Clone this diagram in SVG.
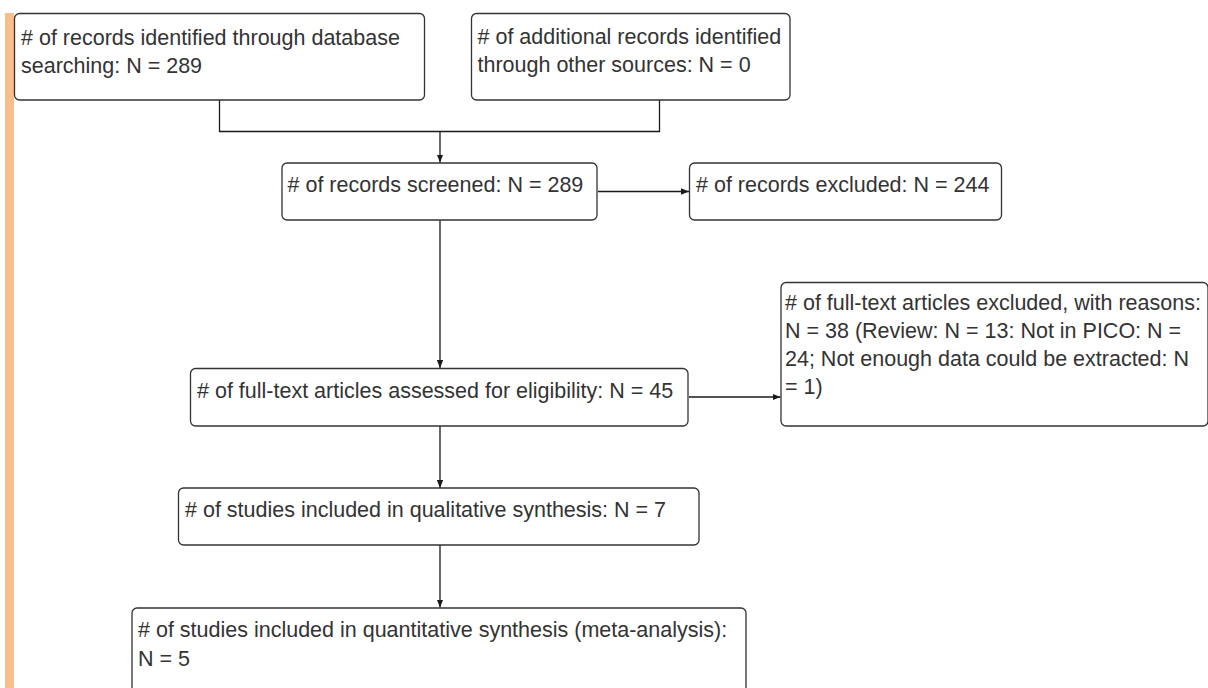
<svg xmlns="http://www.w3.org/2000/svg" width="1208" height="688" viewBox="0 0 1208 688">
  <defs>
    <marker id="arrow" viewBox="0 0 10 8" refX="10" refY="4" markerWidth="8" markerHeight="6.4" markerUnits="userSpaceOnUse" orient="auto">
      <path d="M0,0 L10,4 L0,8 Z" fill="#1a1a1a"/>
    </marker>
    <style>
      .box { fill: #ffffff; stroke: #333333; stroke-width: 1.3; }
      .label { font-family: "Liberation Sans", Arial, sans-serif; font-size: 21.5px; fill: #333333; }
      .wire { fill: none; stroke: #1a1a1a; stroke-width: 1.3; }
      .arrow { marker-end: url(#arrow); }
    </style>
  </defs>

  <rect width="1208" height="688" fill="#ffffff"/>

  <!-- side accent bar -->
  <rect x="5" y="13" width="9" height="675" fill="#f8be8c"/>

  <!-- connectors -->
  <g id="connectors">
    <path class="wire" d="M219.5,100 V131.5 H659.5 V100"/>
    <path class="wire arrow" d="M440,131.5 V162.5"/>
    <path class="wire arrow" d="M598,191.5 H689"/>
    <path class="wire arrow" d="M440,220 V368"/>
    <path class="wire arrow" d="M689,397 H780.5"/>
    <path class="wire arrow" d="M440,426 V488"/>
    <path class="wire arrow" d="M440,545 V607.5"/>
  </g>

  <g id="node-db-search">
    <rect class="box" x="14.5" y="13.5" width="410" height="86.5" rx="5"/>
    <text class="label" x="21" y="44.5">
      <tspan x="21"># of records identified through database</tspan>
      <tspan x="21" y="72.5">searching: N = 289</tspan>
    </text>
  </g>

  <g id="node-other-sources">
    <rect class="box" x="471.5" y="13.5" width="318.5" height="86.5" rx="5"/>
    <text class="label" x="477.5" y="44">
      <tspan x="477.5"># of additional records identified</tspan>
      <tspan x="477.5" y="72">through other sources: N = 0</tspan>
    </text>
  </g>

  <g id="node-screened">
    <rect class="box" x="282" y="163" width="315" height="57" rx="5"/>
    <text class="label" x="287.5" y="192"># of records screened: N = 289</text>
  </g>

  <g id="node-excluded">
    <rect class="box" x="689.5" y="163" width="312" height="57" rx="5"/>
    <text class="label" x="696" y="192"># of records excluded: N = 244</text>
  </g>

  <g id="node-fulltext">
    <rect class="box" x="190.5" y="368.5" width="497.5" height="57.5" rx="5"/>
    <text class="label" x="197" y="397.5"># of full-text articles assessed for eligibility: N = 45</text>
  </g>

  <g id="node-fulltext-excluded">
    <rect class="box" x="781" y="282.5" width="427" height="143.5" rx="5"/>
    <text class="label" x="785" y="309.5">
      <tspan x="785"># of full-text articles excluded, with reasons:</tspan>
      <tspan x="785" y="338">N = 38 (Review: N = 13: Not in PICO: N =</tspan>
      <tspan x="785" y="366">24; Not enough data could be extracted: N</tspan>
      <tspan x="785" y="393.5">= 1)</tspan>
    </text>
  </g>

  <g id="node-qualitative">
    <rect class="box" x="178.5" y="488" width="520.5" height="57" rx="5"/>
    <text class="label" x="185" y="517"># of studies included in qualitative synthesis: N = 7</text>
  </g>

  <g id="node-quantitative">
    <rect class="box" x="132" y="608" width="614" height="100" rx="5"/>
    <text class="label" x="138" y="637">
      <tspan x="138"># of studies included in quantitative synthesis (meta-analysis):</tspan>
      <tspan x="138" y="666">N = 5</tspan>
    </text>
  </g>
</svg>
